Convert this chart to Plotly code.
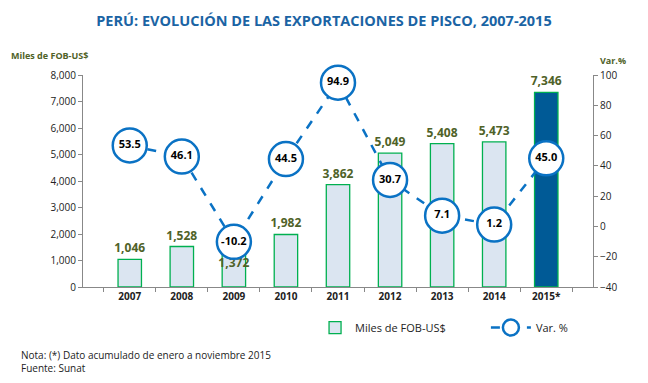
import plotly.graph_objects as go

years = ["2007", "2008", "2009", "2010", "2011", "2012", "2013", "2014", "2015*"]
fob = [1046, 1528, 1372, 1982, 3862, 5049, 5408, 5473, 7346]
var_pct = [53.5, 46.1, -10.2, 44.5, 94.9, 30.7, 7.1, 1.2, 45.0]
left_ticks = [0, 1000, 2000, 3000, 4000, 5000, 6000, 7000, 8000]
right_ticks = [-40, -20, 0, 20, 40, 60, 80, 100]

FONT = "Open Sans"
bar_colors = ["#dbe5f1"] * 8 + ["#005a96"]
text_pos = ["outside" if y != "2009" else "inside" for y in years]

fig = go.Figure()
fig.add_trace(go.Bar(
    x=years, y=fob, name="Miles de FOB-US$",
    marker=dict(color=bar_colors, line=dict(color="#00b050", width=1.3)),
    width=0.45,
    text=[f"{v:,}" for v in fob], textposition=text_pos,
    insidetextanchor="end", textangle=0, constraintext="none",
    textfont=dict(family=FONT, size=12, color="#4f6228", weight="bold"),
    cliponaxis=False, legend="legend",
))
fig.add_trace(go.Scatter(
    x=years, y=var_pct, name="Var. %", yaxis="y2",
    mode="lines+markers+text",
    line=dict(color="#0a72c4", width=2.5, dash="dash"),
    marker=dict(size=34, color="white", line=dict(color="#0a72c4", width=2.5)),
    text=[f"{v:.1f}" for v in var_pct], textposition="middle center",
    textfont=dict(family=FONT, size=11, color="black", weight="bold"),
    cliponaxis=False, legend="legend2",
))

fig.update_layout(
    width=648, height=383,
    margin=dict(l=83, r=55, t=75, b=96),
    paper_bgcolor="white", plot_bgcolor="white",
    font=dict(family=FONT, size=10, color="#222"),
    title=dict(text="<b>PERÚ: EVOLUCIÓN DE LAS EXPORTACIONES DE PISCO, 2007-2015</b>",
               x=0.5, xanchor="center", y=0.945, yanchor="middle",
               font=dict(family=FONT, size=14.5, color="#1b64a4")),
    xaxis=dict(type="category", showline=True, linecolor="#888", ticks="outside",
               tickson="boundaries", ticklen=4, tickcolor="#888",
               tickfont=dict(size=10, color="#222", weight="bold"), showgrid=False),
    yaxis=dict(range=[0, 8000], tickvals=left_ticks, tickformat=",", showgrid=False,
               showline=True, linecolor="#888", ticks="outside", ticklen=4,
               tickcolor="#888", zeroline=False, tickfont=dict(size=10, color="#222")),
    yaxis2=dict(range=[-40, 100], tickvals=right_ticks, overlaying="y", side="right",
                showgrid=False, showline=True, linecolor="#888", ticks="outside",
                ticklen=4, tickcolor="#888", zeroline=False,
                tickfont=dict(size=10, color="#222")),
    legend=dict(orientation="h", x=0.455, xanchor="left", y=-0.123, yanchor="top",
                font=dict(size=11, color="#222"), itemwidth=30),
    legend2=dict(orientation="h", x=0.79, xanchor="left", y=-0.123, yanchor="top",
                 font=dict(size=11, color="#222"), itemwidth=40),
    showlegend=True,
    bargap=0.5,
)

fig.add_annotation(text="<b>Miles de FOB-US$</b>", xref="paper", yref="paper",
                   x=-0.145, y=1.09, xanchor="left", yanchor="middle", showarrow=False,
                   font=dict(size=9, color="#4f6228"))
fig.add_annotation(text="<b>Var.%</b>", xref="paper", yref="paper",
                   x=1.01, y=1.07, xanchor="left", yanchor="middle", showarrow=False,
                   font=dict(size=9, color="#4f6228"))
fig.add_annotation(text="Nota: (*) Dato acumulado de enero a noviembre 2015<br>Fuente: Sunat",
                   xref="paper", yref="paper", x=-0.125, y=-0.276, xanchor="left",
                   yanchor="top", align="left", showarrow=False,
                   font=dict(size=10, color="#222"))

fig.write_html("out.html", config={"displayModeBar": False},
               post_script="document.body.style.margin='0';")
